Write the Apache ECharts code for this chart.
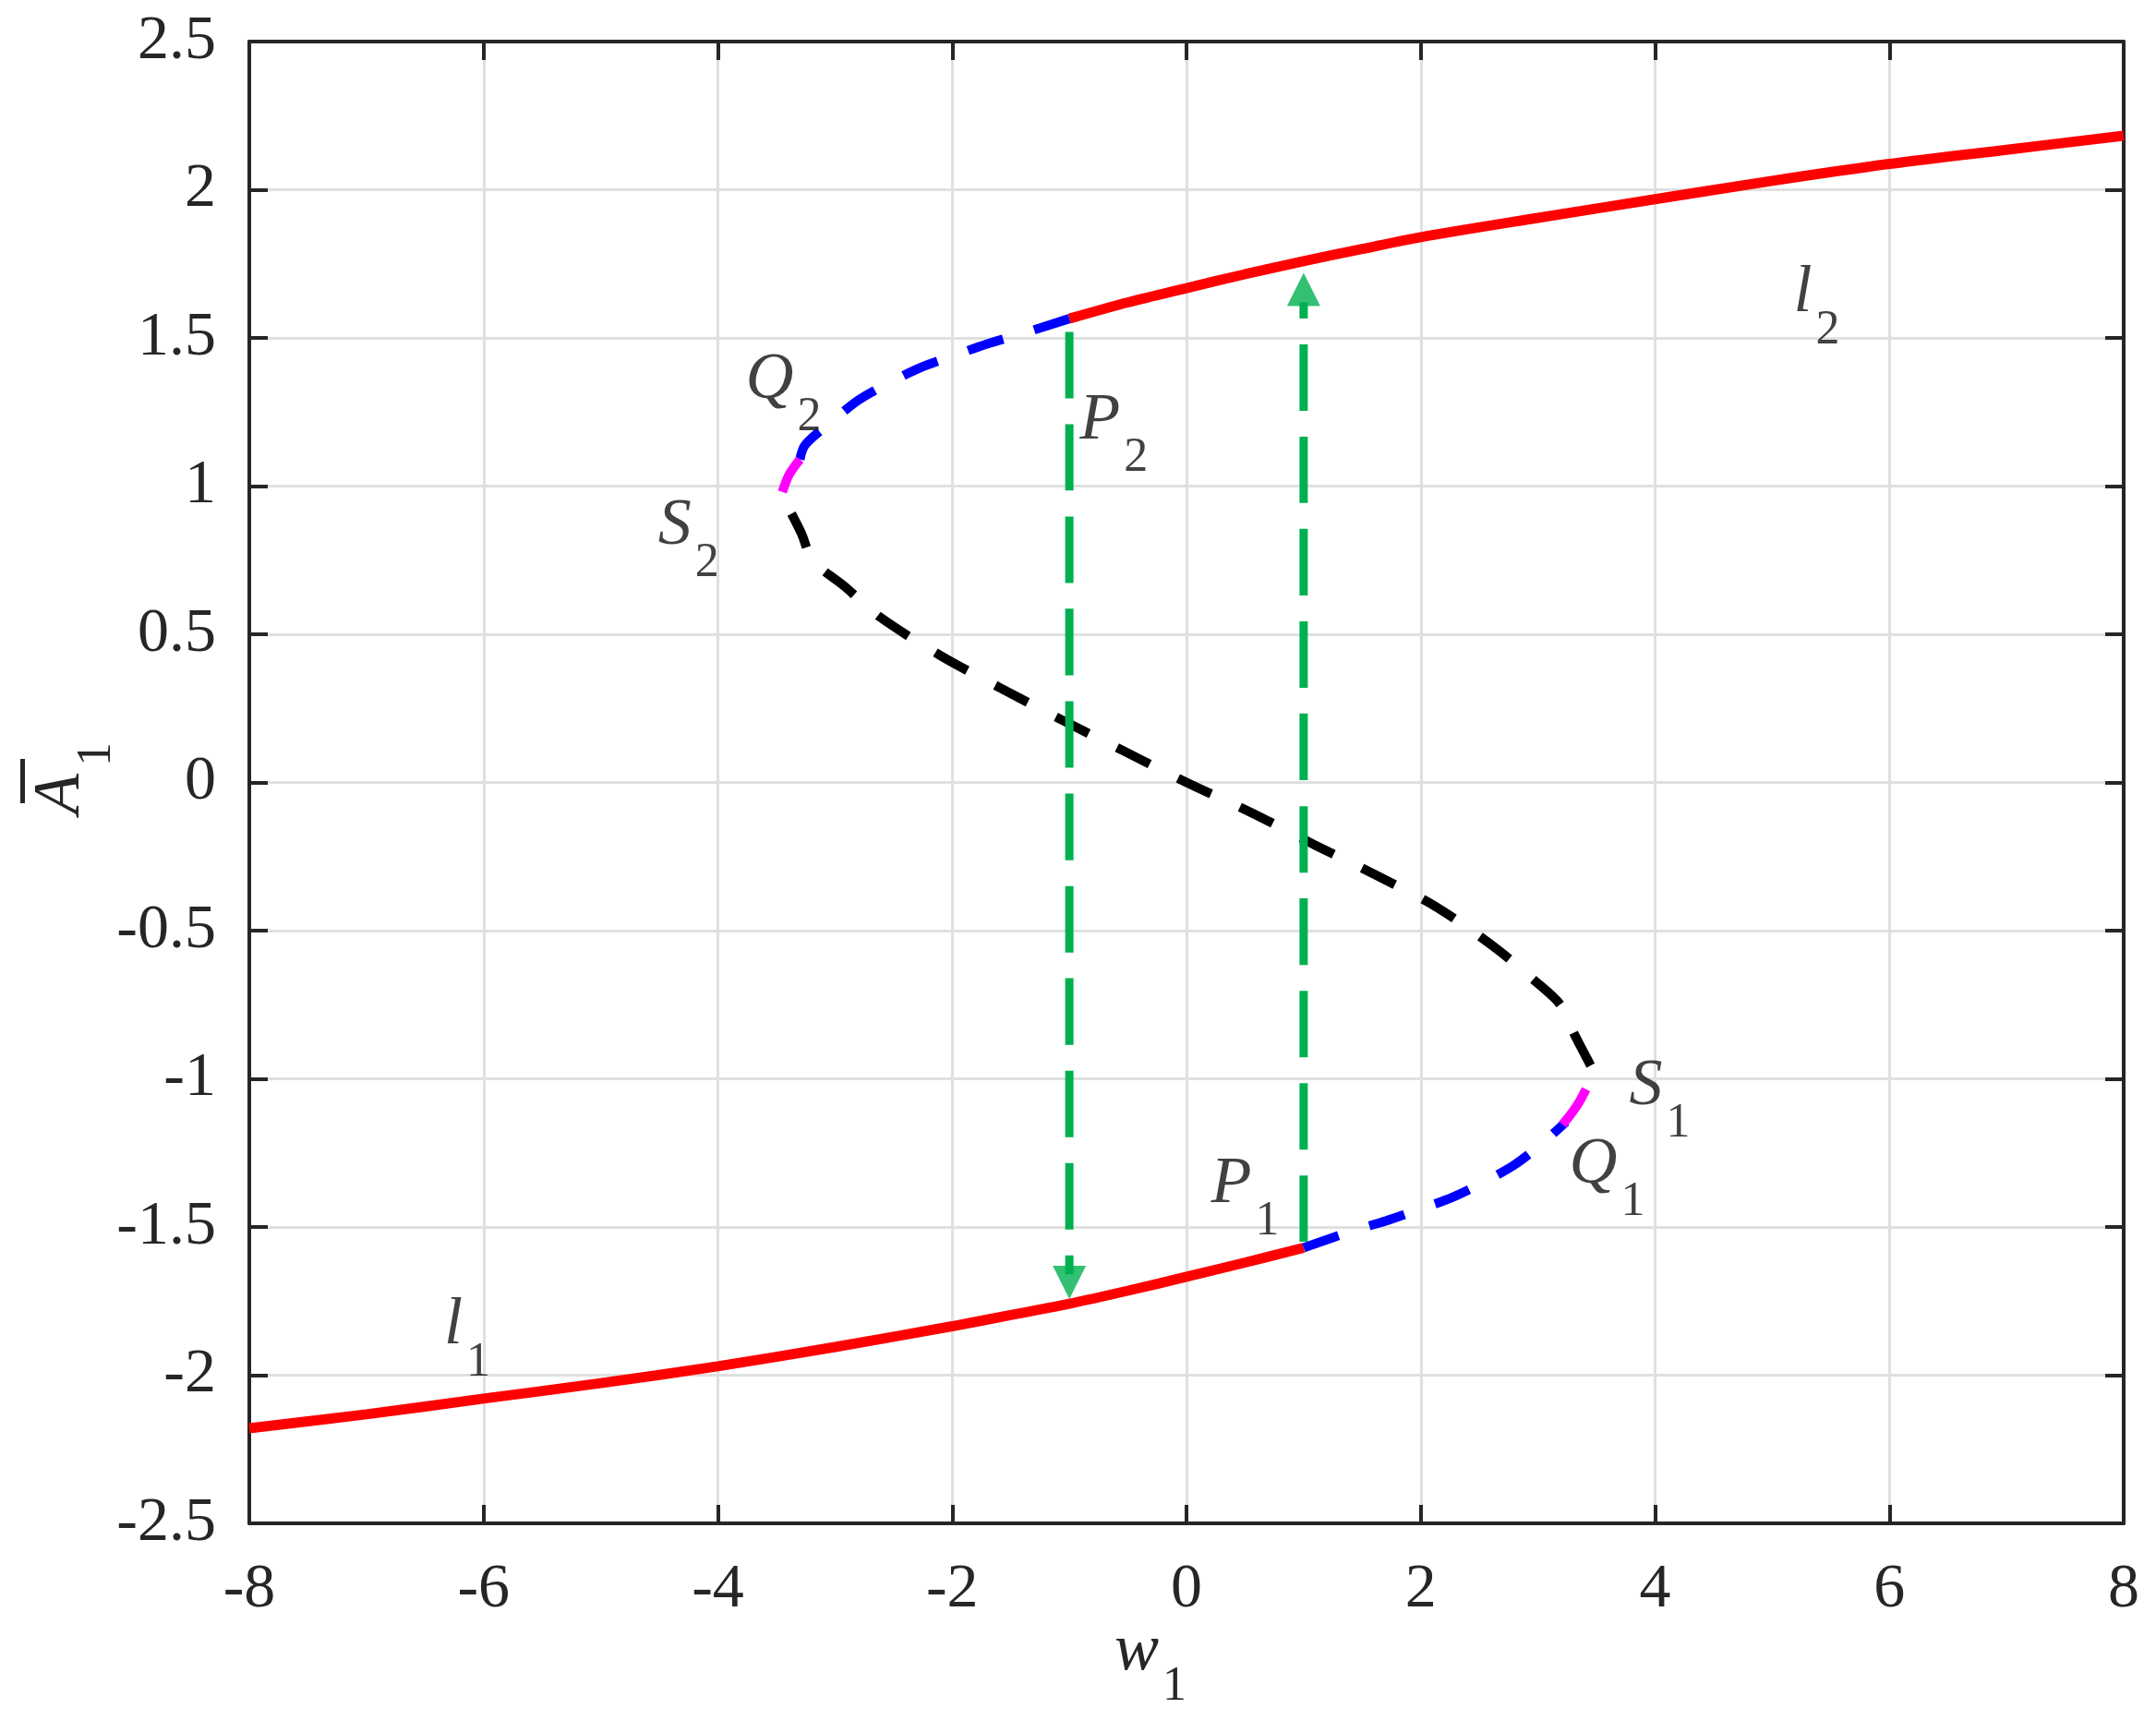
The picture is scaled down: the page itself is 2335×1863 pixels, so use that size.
<!DOCTYPE html>
<html>
<head>
<meta charset="utf-8">
<script src="https://cdn.jsdelivr.net/npm/echarts@6/dist/echarts.min.js"></script>
<style>
  html, body { margin: 0; padding: 0; background: #fff; }
  #chart { width: 2335px; height: 1863px; }
</style>
</head>
<body>
<div id="chart"></div>
<script>
// axis ticks
var xTicks = [-8, -6, -4, -2, 0, 2, 4, 6, 8];
var yTicks = [-2.5, -2, -1.5, -1, -0.5, 0, 0.5, 1, 1.5, 2, 2.5];

// stable branches (red)
var l1Branch = [[-8, -2.179], [-7, -2.132], [-6, -2.079], [-5, -2.027], [-4, -1.970], [-3, -1.905],
  [-2, -1.835], [-1.5, -1.797], [-1, -1.759], [-0.5, -1.715], [0, -1.668], [0.5, -1.62], [1, -1.57]];
var l2Branch = [[-1, 1.565], [-0.5, 1.62], [0, 1.668], [0.5, 1.715], [1, 1.759], [1.5, 1.80], [2, 1.84],
  [3, 1.905], [4, 1.968], [5, 2.03], [6, 2.087], [7, 2.135], [8, 2.182]];

// metastable parts (blue dashed)
var p1q1Branch = [[1.0, -1.57], [1.44, -1.51], [1.70, -1.48], [1.99, -1.44], [2.27, -1.40], [2.53, -1.35],
  [2.80, -1.29], [3.03, -1.22], [3.24, -1.145]];
var p2q2Branch = [[-1.0, 1.565], [-1.44, 1.51], [-1.70, 1.48], [-1.99, 1.44], [-2.27, 1.40], [-2.53, 1.35],
  [-2.80, 1.29], [-3.03, 1.217], [-3.255, 1.139], [-3.30, 1.09]];

// q-s parts (magenta)
var q1s1Branch = [[3.21, -1.154], [3.28, -1.12], [3.35, -1.08], [3.41, -1.035]];
var q2s2Branch = [[-3.30, 1.09], [-3.39, 1.04], [-3.45, 0.98]];

// unstable branch (black dashed)
var unstableBranch = [[3.45, -0.955], [3.31, -0.849], [3.19, -0.749], [2.97, -0.668], [2.64, -0.559],
  [2.14, -0.422], [1.62, -0.313], [1.09, -0.21], [0.55, -0.101], [0, 0], [-0.54, 0.107], [-1.06, 0.21],
  [-1.59, 0.319], [-2.10, 0.428], [-2.62, 0.559], [-2.92, 0.662], [-3.19, 0.749], [-3.29, 0.843], [-3.44, 0.958]];

// jumps (green)
var jumpDown = [[-1, 1.52], [-1, -1.66]];
var jumpUp = [[1, -1.55], [1, 1.62]];
var arrowTips = [[-1, -1.743, 180, -18], [1, 1.72, 0, 18]];

// point names: letter, subscript, w, A
var pointLabels = [
  ['Q', '2', -3.44, 1.357],
  ['P', '2', -0.62, 1.22],
  ['S', '2', -4.25, 0.864],
  ['S', '1', 4.04, -1.027],
  ['Q', '1', 3.59, -1.291],
  ['P', '1', 0.50, -1.357],
  ['l', '1', -6.14, -1.833],
  ['l', '2', 5.38, 1.65]
];

var FONT = 'Liberation Serif';
var INK = '#262626';

var chart = echarts.init(document.getElementById('chart'));

function curve(data, color, width, dash) {
  return {
    type: 'line',
    data: data,
    symbol: 'none',
    smooth: 0.3,
    animation: false,
    silent: true,
    lineStyle: { color: color, width: width, type: dash || 'solid', cap: 'butt' }
  };
}

function axisBase(min, max, step, pos, main) {
  return {
    type: 'value',
    min: min,
    max: max,
    interval: step,
    position: pos,
    axisLine: { show: true, onZero: false, lineStyle: { color: INK, width: 4 } },
    axisTick: { show: true, inside: true, length: 20, lineStyle: { color: INK, width: 4 } },
    axisLabel: {
      show: main, fontFamily: FONT, fontSize: 68, color: INK,
      margin: pos === 'bottom' ? 38 : 36
    },
    splitLine: { show: main, lineStyle: { color: '#e0e0e0', width: 3 } }
  };
}

var xMin = xTicks[0], xMax = xTicks[xTicks.length - 1], xStep = xTicks[1] - xTicks[0];
var yMin = yTicks[0], yMax = yTicks[yTicks.length - 1], yStep = yTicks[1] - yTicks[0];

chart.setOption({
  backgroundColor: '#fff',
  animation: false,
  grid: { left: 270, right: 35, top: 45, bottom: 213, containLabel: false, outerBoundsMode: 'none' },
  xAxis: [
    axisBase(xMin, xMax, xStep, 'bottom', true),
    axisBase(xMin, xMax, xStep, 'top', false)
  ],
  yAxis: [
    axisBase(yMin, yMax, yStep, 'left', true),
    axisBase(yMin, yMax, yStep, 'right', false)
  ],
  series: [
    curve(l1Branch, '#ff0000', 11),
    curve(l2Branch, '#ff0000', 11),
    curve(p1q1Branch, '#0000ff', 10, [40, 35]),
    curve(p2q2Branch, '#0000ff', 10, [40, 35]),
    curve(q1s1Branch, '#ff00ff', 10),
    curve(q2s2Branch, '#ff00ff', 10),
    curve(unstableBranch, '#000000', 10, [40, 34]),
    curve(jumpDown, '#00b050', 9, [72, 28]),
    curve(jumpUp, '#00b050', 9, [72, 28]),
    {
      type: 'scatter',
      silent: true,
      symbol: 'triangle',
      symbolSize: [36, 36],
      itemStyle: { color: '#00b050' },
      data: arrowTips.map(function (t) {
        return { value: [t[0], t[1]], symbolRotate: t[2], symbolOffset: [0, t[3]] };
      }),
      z: 5
    },
    {
      type: 'scatter',
      silent: true,
      symbolSize: 0,
      data: pointLabels.map(function (p) {
        return { value: [p[2], p[3]], name: p[0] + p[1] };
      }),
      label: {
        show: true,
        position: 'inside',
        formatter: function (params) {
          var p = pointLabels[params.dataIndex];
          return '{m|' + p[0] + '}{s|' + p[1] + '}';
        },
        rich: {
          m: { fontFamily: FONT, fontStyle: 'italic', fontSize: 72, lineHeight: 72, verticalAlign: 'top', color: '#111' },
          s: { fontFamily: FONT, fontSize: 52, lineHeight: 52, verticalAlign: 'top', color: '#111', padding: [50, 0, 0, 4] }
        }
      },
      z: 6
    }
  ],
  graphic: [
    {
      type: 'text', x: 1231, y: 1789,
      style: { text: 'w', fontFamily: FONT, fontStyle: 'italic', fontSize: 72, fill: INK, align: 'center', verticalAlign: 'middle' }
    },
    {
      type: 'text', x: 1272, y: 1827,
      style: { text: '1', fontFamily: FONT, fontSize: 52, fill: INK, align: 'center', verticalAlign: 'middle' }
    },
    {
      type: 'group', x: 90, y: 882, rotation: Math.PI / 2,
      children: [
        { type: 'text', x: 0, y: -24, style: { text: 'A', fontFamily: FONT, fontStyle: 'italic', fontSize: 72, fill: INK, align: 'left', verticalAlign: 'middle' } },
        { type: 'text', x: 52, y: 15, style: { text: '1', fontFamily: FONT, fontSize: 52, fill: INK, align: 'left', verticalAlign: 'middle' } },
        { type: 'rect', shape: { x: 12, y: -68, width: 48, height: 5 }, style: { fill: INK } }
      ]
    }
  ]
});
</script>
</body>
</html>
